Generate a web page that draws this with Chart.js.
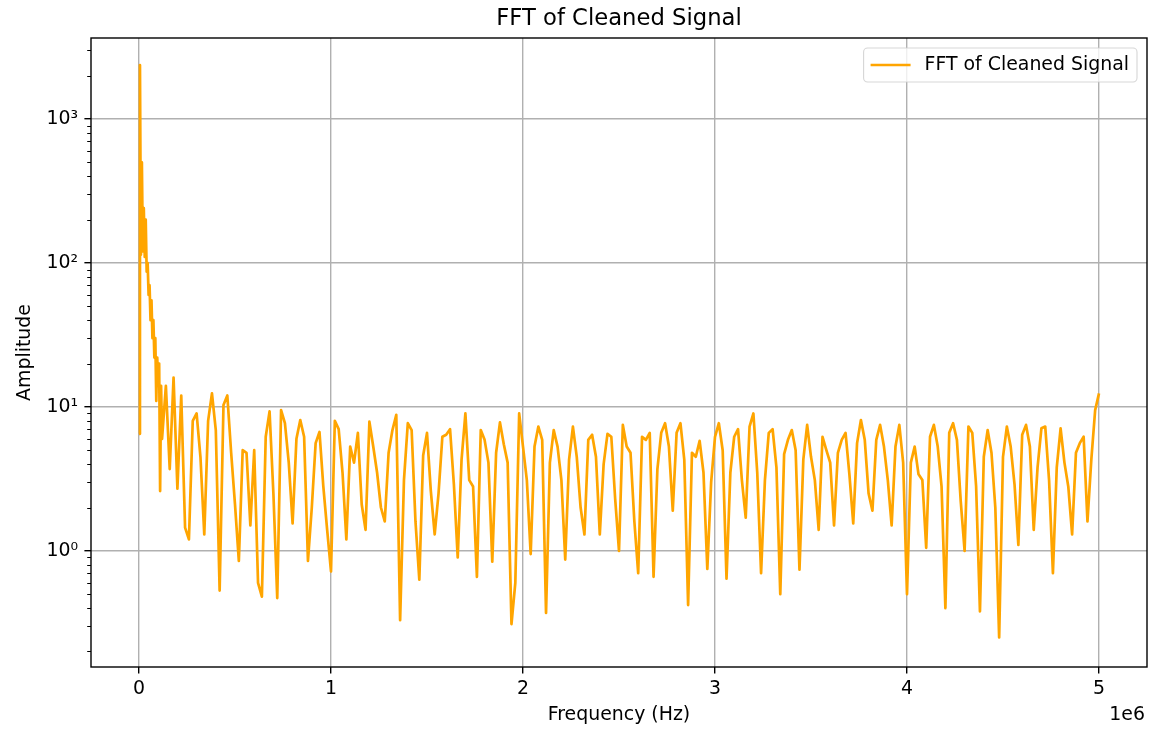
<!DOCTYPE html>
<html>
<head>
<meta charset="utf-8">
<title>FFT of Cleaned Signal</title>
<script src="https://cdn.jsdelivr.net/npm/chart.js@4.4.1/dist/chart.umd.min.js"></script>
<style>
  html, body { margin: 0; padding: 0; background: #fff; }
  #fftChart { display: block; }
</style>
</head>
<body>
<canvas id="fftChart" width="1151" height="730"></canvas>
<script>
// FFT magnitude.
// Low band: every 5 kHz from DC to 115 kHz (steep, busy decay after the peak).
const lowBandStepHz = 5000;
const lowBandAmp = [
  6.5, 2370, 114, 500, 120, 240, 110, 200, 87, 100, 60, 70,
  40, 55, 30, 40, 22, 30, 11, 22, 14, 20, 2.6, 14
];
// Main band: every 20 kHz from 120 kHz to 5 MHz.
const mainStartHz = 120000;
const mainStepHz = 20000;
const mainAmp = [
  6, 14, 3.7, 16, 2.7,
  12, 1.45, 1.2, 8, 9, 4.5, 1.3, 8, 12.4, 6.9,
  0.53, 10.3, 12, 4.8, 2.1, 0.85, 5, 4.8, 1.5, 5,
  0.6, 0.48, 6.2, 9.3, 2.5, 0.47, 9.5, 7.7, 4.1, 1.55,
  6, 8.1, 6.2, 0.85, 2.0, 5.6, 6.7, 2.8, 1.4, 0.72,
  8.0, 7.0, 3.5, 1.2, 5.3, 4.1, 6.6, 2.1, 1.4, 7.9,
  5.3, 3.5, 2.0, 1.6, 4.8, 6.9, 8.8, 0.33, 3.1, 7.7,
  6.9, 1.6, 0.63, 4.6, 6.6, 2.6, 1.3, 2.5, 6.2, 6.4,
  7.0, 2.9, 0.9, 4.3, 9.0, 3.1, 2.8, 0.66, 6.9, 5.9,
  4.1, 0.84, 4.8, 7.8, 5.5, 4.1, 0.31, 0.6, 9.0, 5.3,
  3.1, 0.95, 5.3, 7.3, 5.9, 0.37, 4.1, 6.9, 5.3, 3.1,
  0.87, 4.3, 7.3, 4.5, 2.0, 1.3, 5.9, 6.4, 4.5, 1.3,
  4.0, 6.5, 6.2, 2.3, 1.0, 7.5, 5.3, 4.8, 1.6, 0.7,
  6.2, 5.9, 6.6, 0.66, 3.7, 6.6, 7.7, 5.3, 1.9, 6.6,
  7.7, 4.3, 0.42, 4.8, 4.5, 5.8, 3.5, 0.75, 3.0, 6.2,
  7.7, 5.0, 0.64, 3.5, 6.2, 7.0, 3.1, 1.7, 7.3, 9.0,
  3.5, 0.7, 3.1, 6.6, 7.0, 3.8, 0.5, 4.7, 5.9, 6.9,
  5.0, 0.74, 4.3, 7.5, 4.5, 3.1, 1.4, 6.2, 5.0, 4.1,
  1.5, 4.8, 5.9, 6.6, 3.4, 1.55, 5.6, 8.1, 5.9, 2.5,
  1.9, 5.9, 7.5, 5.3, 3.1, 1.5, 5.3, 7.5, 4.1, 0.5,
  4.1, 5.3, 3.4, 3.1, 1.05, 6.2, 7.5, 5.3, 2.8, 0.4,
  6.6, 7.7, 5.9, 2.2, 1.0, 7.3, 6.6, 2.8, 0.38, 4.5,
  6.9, 4.8, 2.0, 0.25, 4.5, 7.3, 5.3, 2.9, 1.1, 6.4,
  7.5, 5.3, 1.4, 3.8, 7.1, 7.3, 3.1, 0.7, 3.8, 7.1,
  4.1, 2.8, 1.3, 4.8, 5.6, 6.2, 1.6, 4.3, 9.5, 12.4
];

const xTickValues = [0, 1e6, 2e6, 3e6, 4e6, 5e6];
const yMajorTicks = [1, 10, 100, 1000];
const yTickLabels = ["10⁰", "10¹", "10²", "10³"];

const seriesLabel = "FFT of Cleaned Signal";
const lineColor = "#ffa500";
const gridColor = "#b0b0b0";
const yMin = 0.156;
const yMax = 3650;

const points = lowBandAmp
  .map((y, i) => ({ x: i * lowBandStepHz, y }))
  .concat(mainAmp.map((y, i) => ({ x: mainStartHz + i * mainStepHz, y })));

Chart.defaults.font.family = "'DejaVu Sans', sans-serif";
Chart.defaults.font.size = 18.9;
Chart.defaults.color = "#000";

// minor log ticks 2..9 inside each decade, like matplotlib
const yMinorTicks = [];
[0.1, 1, 10, 100, 1000].forEach((d) => {
  for (let m = 2; m <= 9; m++) {
    const v = +(d * m).toPrecision(3);
    if (v >= yMin && v <= yMax) yMinorTicks.push(v);
  }
});

// black frame on all four sides, minor ticks, offset text, legend box inside the axes
const mplDecor = {
  id: "mplDecor",
  afterDatasetsDraw(chart) {
    const { ctx, chartArea: a } = chart;
    const yScale = chart.scales.y;
    ctx.save();
    ctx.strokeStyle = "#000";
    ctx.lineWidth = 1.1;
    ctx.beginPath();
    yMinorTicks.forEach((v) => {
      const py = Math.round(yScale.getPixelForValue(v)) + 0.5;
      ctx.moveTo(a.left - 3.8, py);
      ctx.lineTo(a.left, py);
    });
    ctx.stroke();
    ctx.lineWidth = 1.4;
    ctx.strokeRect(a.left, a.top, a.right - a.left, a.bottom - a.top);
    ctx.restore();
  },
  afterDraw(chart) {
    const { ctx, chartArea: a } = chart;
    ctx.save();
    ctx.font = "18.9px 'DejaVu Sans'";
    ctx.fillStyle = "#000";
    ctx.textAlign = "right";
    ctx.textBaseline = "middle";
    ctx.fillText("1e6", a.right - 2, a.bottom + 48);

    // legend
    const textW = ctx.measureText(seriesLabel).width;
    const boxW = 7 + 40 + 14 + textW + 8;
    const boxH = 34;
    const bx = a.right - 10 - boxW;
    const by = a.top + 10;
    ctx.beginPath();
    ctx.roundRect(bx, by, boxW, boxH, 4);
    ctx.fillStyle = "rgba(255,255,255,0.8)";
    ctx.fill();
    ctx.strokeStyle = "rgba(204,204,204,0.8)";
    ctx.lineWidth = 1.1;
    ctx.stroke();

    const my = by + boxH / 2;
    ctx.beginPath();
    ctx.moveTo(bx + 7, my);
    ctx.lineTo(bx + 47, my);
    ctx.strokeStyle = lineColor;
    ctx.lineWidth = 2.7;
    ctx.stroke();

    ctx.fillStyle = "#000";
    ctx.textAlign = "left";
    ctx.fillText(seriesLabel, bx + 61, my);
    ctx.restore();
  },
};

new Chart(document.getElementById("fftChart"), {
  type: "line",
  data: {
    datasets: [
      {
        label: seriesLabel,
        data: points,
        borderColor: lineColor,
        backgroundColor: lineColor,
        borderWidth: 2.7,
        borderJoinStyle: "round",
        pointRadius: 0,
        tension: 0,
        fill: false,
      },
    ],
  },
  options: {
    responsive: false,
    animation: false,
    devicePixelRatio: 1,
    layout: { padding: { left: 0, right: 4, top: 0, bottom: 0 } },
    scales: {
      x: {
        type: "linear",
        min: -250000,
        max: 5250000,
        afterBuildTicks: (axis) => {
          axis.ticks = xTickValues.map((v) => ({ value: v }));
        },
        afterFit: (axis) => {
          axis.height = 63;
        },
        ticks: {
          autoSkip: false,
          maxRotation: 0,
          padding: 4,
          callback: (v) => String(v / 1e6),
        },
        grid: { color: gridColor, lineWidth: 1.4, tickColor: "#000", tickLength: 6.6, tickWidth: 1.4 },
        border: { display: false },
        title: { display: true, text: "Frequency (Hz)", padding: { top: 0, bottom: 3.7 } },
      },
      y: {
        type: "logarithmic",
        min: yMin,
        max: yMax,
        afterBuildTicks: (axis) => {
          axis.ticks = yMajorTicks.map((v) => ({ value: v }));
        },
        afterFit: (axis) => {
          axis.width = 91;
        },
        ticks: {
          autoSkip: false,
          padding: 6.4,
          callback: (v) => yTickLabels[yMajorTicks.indexOf(v)],
        },
        grid: { color: gridColor, lineWidth: 1.4, tickColor: "#000", tickLength: 6.6, tickWidth: 1.4 },
        border: { display: false },
        title: { display: true, text: "Amplitude", padding: { top: 13.7, bottom: 0 } },
      },
    },
    plugins: {
      legend: { display: false },
      tooltip: { enabled: false },
      title: {
        display: true,
        fullSize: false,
        text: "FFT of Cleaned Signal",
        font: { size: 22.7, weight: "normal" },
        color: "#000",
        padding: { top: 5.4, bottom: 5.36 },
      },
    },
  },
  plugins: [mplDecor],
});
</script>
</body>
</html>
